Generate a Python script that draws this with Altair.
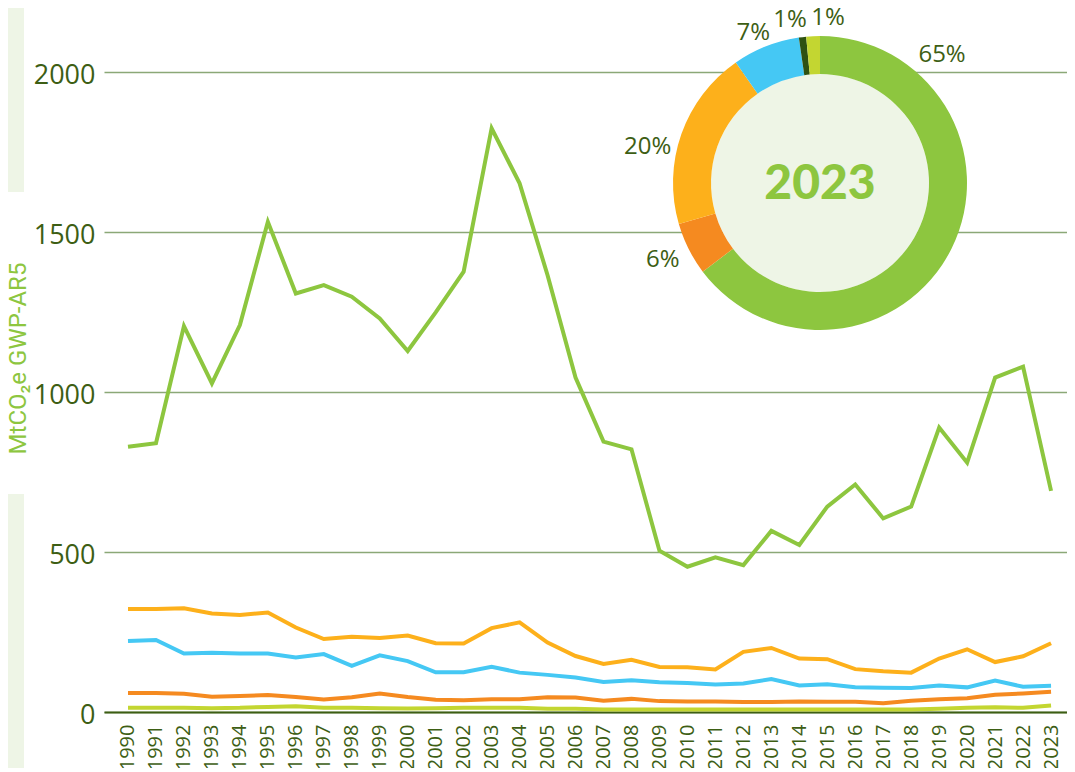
import altair as alt
import pandas as pd

# ---------------- data ----------------
years = list(range(1990, 2024))

green = [829, 840, 1206, 1027, 1209, 1532, 1308, 1334, 1298, 1230,
         1128, 1249, 1376, 1824, 1652, 1365, 1045, 845, 821, 504,
         454, 483, 459, 566, 522, 642, 711, 605, 642, 889,
         779, 1045, 1079, 691]
amber = [322, 322, 324, 308, 303, 311, 264, 228, 235, 231,
         239, 215, 214, 262, 280, 217, 175, 150, 163, 141,
         140, 133, 188, 200, 167, 165, 134, 127, 123, 167,
         196, 156, 174, 215]
blue = [222, 225, 183, 185, 183, 183, 170, 181, 144, 177,
        159, 124, 124, 141, 123, 116, 108, 94, 99, 93,
        91, 86, 89, 103, 83, 87, 77, 76, 75, 83,
        77, 98, 79, 82]
orange = [59, 59, 57, 48, 50, 53, 47, 39, 46, 58,
          47, 38, 37, 40, 40, 46, 45, 35, 41, 34,
          33, 33, 31, 31, 33, 32, 32, 27, 35, 40,
          43, 54, 58, 63]
lime = [13, 13, 13, 12, 13, 16, 18, 13, 13, 12,
        11, 12, 13, 13, 13, 10, 10, 8, 8, 8,
        8, 8, 8, 8, 8, 8, 8, 8, 8, 10,
        13, 15, 13, 20]

series_names = ["green", "orange", "amber", "blue", "dark", "lime"]
series_colors = ["#8dc63f", "#f58a20", "#fdb01b", "#45c8f4", "#2e5112", "#c3d631"]

# 2023 donut shares (clockwise from 12 o'clock)
donut_series = ["green", "orange", "amber", "blue", "dark", "lime"]
donut_shares = [64.7, 5.8, 19.8, 7.4, 0.8, 1.5]
donut_labels = ["65%", "6%", "20%", "7%", "1%", "1%"]
donut_year = "2023"

# label placement around the donut (layout)
label_angles = [43.6, 243.9, 281.8, 336.0, 349.6, 2.8]
label_radii = [177, 175, 176, 164, 166, 165]

y_ticks = [0, 500, 1000, 1500, 2000]

# ---------------- layout constants ----------------
W, H = 963, 704
CX, CY = 716, 175
R_OUT, R_IN = 147, 109
TXT = "#3d5e14"
GREEN = "#8dc63f"
PALE = "#eef5e6"

rows = []
for name, vals in [("amber", amber), ("blue", blue), ("orange", orange),
                   ("lime", lime), ("green", green)]:
    for yr, v in zip(years, vals):
        rows.append({"year": yr, "series": name, "value": v})
lines_df = pd.DataFrame(rows)
lines_df["order"] = lines_df["series"].map({"amber": 1, "blue": 2, "orange": 3, "lime": 4, "green": 5})

donut_df = pd.DataFrame({
    "series": donut_series,
    "share": donut_shares,
    "label": donut_labels,
    "order": list(range(len(donut_series))),
    "angle": label_angles,
    "rad": label_radii,
})

color_scale = alt.Scale(domain=series_names, range=series_colors)

one = pd.DataFrame({"k": [0]})

# pale decorative strips on the far left
strip_top = alt.Chart(one).mark_rect(color=PALE).encode(
    x=alt.value(-96), x2=alt.value(-80), y=alt.value(-8), y2=alt.value(184))
strip_bot = alt.Chart(one).mark_rect(color=PALE).encode(
    x=alt.value(-96), x2=alt.value(-80), y=alt.value(486), y2=alt.value(790))

lines = alt.Chart(lines_df).mark_line(strokeWidth=4, strokeJoin="miter").encode(
    x=alt.X("year:Q",
            scale=alt.Scale(domain=[1989.142, 2023.57], nice=False, zero=False),
            axis=alt.Axis(values=years, format="d", labelAngle=-90, title=None,
                          grid=False, ticks=False, labelPadding=12,
                          labelFontSize=20, labelColor=TXT, labelFont="Open Sans",
                          domainColor=TXT, domainWidth=2)),
    y=alt.Y("value:Q",
            scale=alt.Scale(domain=[0, 2200], nice=False),
            axis=alt.Axis(values=y_ticks, format="d", title="MtCO₂e GWP-AR5",
                          titleColor=GREEN, titleFontSize=24,
                          titleFont="Roboto",
                          titleFontWeight="normal",
                          titleX=-86, titleY=350, titleAngle=270,
                          titleBaseline="middle", titleAlign="center",
                          domain=False, ticks=False, grid=True,
                          gridColor="#8ba877", gridWidth=1.5,
                          labelPadding=9, labelFontSize=27, labelColor=TXT,
                          labelFont="Open Sans", labelOffset=3)),
    color=alt.Color("series:N", scale=color_scale, legend=None),
    detail="series:N",
    order=alt.Order("order:Q"),
)

inner = alt.Chart(one).mark_arc(radius=R_IN, theta=0, theta2=6.2832, color=PALE).encode(
    x=alt.value(CX), y=alt.value(CY))

ring = alt.Chart(donut_df).mark_arc(radius=R_OUT, radius2=R_IN).encode(
    x=alt.value(CX), y=alt.value(CY),
    theta=alt.Theta("share:Q", stack=True),
    color=alt.Color("series:N", scale=color_scale, legend=None),
    order=alt.Order("order:Q"),
)

pct = alt.Chart(donut_df).mark_text(fontSize=24, font="Open Sans", color=TXT,
                                    align="center", baseline="middle").encode(
    x=alt.value(CX), y=alt.value(CY),
    theta=alt.Theta("angle:Q", stack=None,
                    scale=alt.Scale(domain=[0, 360], range=[0, 6.283185])),
    radius=alt.Radius("rad:Q", scale=None),
    text="label:N",
)

year_txt = alt.Chart(one).mark_text(fontSize=48, font="Lato", fontWeight=900,
                                    color=GREEN, align="center", baseline="middle",
                                    text=donut_year).encode(
    x=alt.value(CX), y=alt.value(CY + 2))

chart = alt.layer(strip_top, strip_bot, lines, inner, ring, pct, year_txt).resolve_scale(
    theta="independent"
).properties(
    width=W, height=H,
    autosize=alt.AutoSizeParams(type="none"),
    padding={"left": 96, "top": 0, "right": 0, "bottom": 56},
    background="white",
).configure_view(stroke=None)

chart.save("out.html", embed_options={"renderer": "svg", "actions": False})
